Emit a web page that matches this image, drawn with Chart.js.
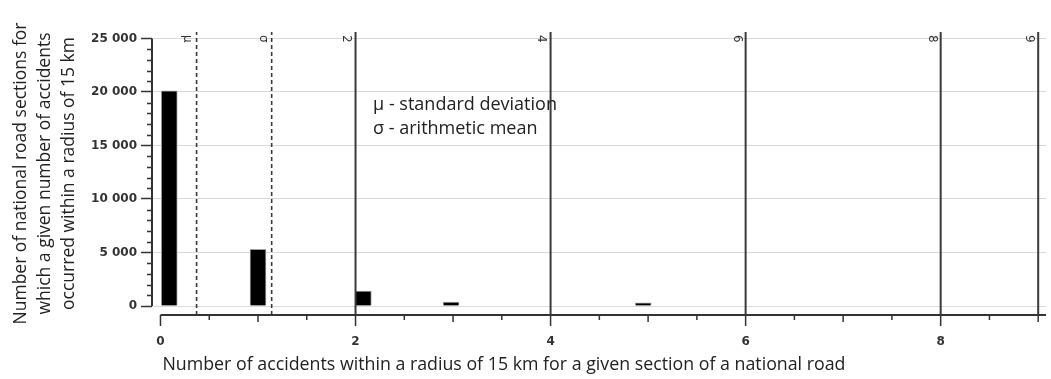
<!DOCTYPE html>
<html>
<head>
<meta charset="utf-8">
<script src="https://cdn.jsdelivr.net/npm/chart.js@4"></script>
<style>
    html, body { margin: 0; padding: 0; background: #fff; }
</style>
</head>
<body>
<canvas id="chart" width="1051" height="379"></canvas>
<script>
// values
const barPositions = [0.09, 1.0, 2.08, 2.98, 4.95];
const sectionCounts = [20100, 5300, 1400, 370, 300];
const markerValues = [0.37, 1.14, 2, 4, 6, 8, 9];
const markerLabels = ['μ', 'σ', '2', '4', '6', '8', '9'];
const markerDashed = [true, true, false, false, false, false, false];
const yTickValues = [0, 5000, 10000, 15000, 20000, 25000];
const xTickValues = [0, 2, 4, 6, 8];
const noteLines = ['μ - standard deviation', 'σ - arithmetic mean'];
const yTitle = ['Number of national road sections for', 'which a given number of accidents', 'occurred within a radius of 15 km'];
const xTitle = 'Number of accidents within a radius of 15 km for a given section of a national road';

const Y_MIN = -841, Y_MAX = 25607;
const tickFont = { family: 'DejaVu Sans', size: 12, weight: 'bold' };

const markerSets = markerValues.map((v, i) => ({
    type: 'line',
    data: [{ x: v, y: Y_MIN }, { x: v, y: Y_MAX }],
    borderColor: '#3a3a3a',
    borderWidth: markerDashed[i] ? 1.6 : 2,
    borderDash: markerDashed[i] ? [4, 3] : [],
    pointRadius: 0,
    clip: false,
    order: 1
}));

// axis lines, minor ticks and the free text
const extras = {
    id: 'extras',
    afterDatasetsDraw(chart) {
        const { ctx, chartArea, scales: { x, y } } = chart;
        ctx.save();
        ctx.strokeStyle = '#333';
        ctx.lineWidth = 2;
        ctx.beginPath();
        ctx.moveTo(chartArea.left, y.getPixelForValue(0));
        ctx.lineTo(chartArea.left, y.getPixelForValue(25000));
        ctx.moveTo(x.getPixelForValue(0), chartArea.bottom);
        ctx.lineTo(chartArea.right, chartArea.bottom);
        ctx.stroke();

        ctx.lineWidth = 1.5;
        ctx.beginPath();
        for (let v = 1000; v < 25000; v += 1000) {
            if (v % 5000 === 0) continue;
            const py = Math.round(y.getPixelForValue(v)) + 0.5;
            ctx.moveTo(chartArea.left - 5, py);
            ctx.lineTo(chartArea.left, py);
        }
        for (let v = 0; v <= 9; v += 0.5) {
            const len = v % 2 === 0 ? 11 : (v % 1 === 0 ? 7 : 5);
            const px = x.getPixelForValue(v);
            ctx.moveTo(px, chartArea.bottom);
            ctx.lineTo(px, chartArea.bottom + len);
        }
        ctx.stroke();

        // labels at the top of the vertical lines
        ctx.fillStyle = '#333';
        ctx.font = '12px "DejaVu Sans"';
        ctx.textAlign = 'left';
        ctx.textBaseline = 'middle';
        markerValues.forEach((v, i) => {
            ctx.save();
            ctx.translate(x.getPixelForValue(v) - 9, chartArea.top + 3);
            ctx.rotate(Math.PI / 2);
            ctx.fillText(markerLabels[i], 0, 0);
            ctx.restore();
        });

        // notes
        ctx.fillStyle = '#222';
        ctx.font = '18px "Open Sans"';
        const nx = x.getPixelForValue(2.18);
        const ny = y.getPixelForValue(18800);
        noteLines.forEach((t, i) => ctx.fillText(t, nx, ny + i * 24));

        // x title
        ctx.font = '17.8px "Open Sans"';
        ctx.fillText(xTitle, x.getPixelForValue(0) + 2, 365);
        ctx.restore();
    }
};

new Chart(document.getElementById('chart'), {
    type: 'bar',
    data: {
        datasets: [{
            data: barPositions.map((p, i) => ({ x: p, y: sectionCounts[i] })),
            backgroundColor: '#000',
            borderColor: '#9aa4aa',
            borderWidth: 1,
            barThickness: 16,
            order: 2
        }, ...markerSets]
    },
    options: {
        responsive: false,
        animation: false,
        layout: { padding: { top: 32, right: 5, left: 0, bottom: 0 } },
        plugins: { legend: { display: false }, tooltip: { enabled: false } },
        scales: {
            x: {
                type: 'linear',
                offset: false,
                min: -0.087,
                max: 9.08,
                grid: { display: false, offset: false },
                border: { display: false },
                afterBuildTicks: s => { s.ticks = xTickValues.map(v => ({ value: v })); },
                ticks: { font: tickFont, color: '#333', padding: 12 },
                afterFit: s => { s.height = 64; }
            },
            y: {
                min: Y_MIN,
                max: Y_MAX,
                afterBuildTicks: s => { s.ticks = yTickValues.map(v => ({ value: v })); },
                grid: { color: '#dadada', tickColor: '#333', tickLength: 11, tickWidth: 1.5 },
                border: { display: false },
                ticks: {
                    font: tickFont,
                    color: '#333',
                    padding: 4,
                    callback: v => v === 0 ? '0' : (v / 1000) + ' 000'
                },
                title: {
                    display: true,
                    text: yTitle,
                    color: '#222',
                    font: { family: 'Open Sans', size: 17.5, lineHeight: 1.37 },
                    padding: { top: 9, bottom: 0 }
                },
                afterFit: s => { s.width = 152; }
            }
        }
    },
    plugins: [extras]
});
</script>
</body>
</html>
